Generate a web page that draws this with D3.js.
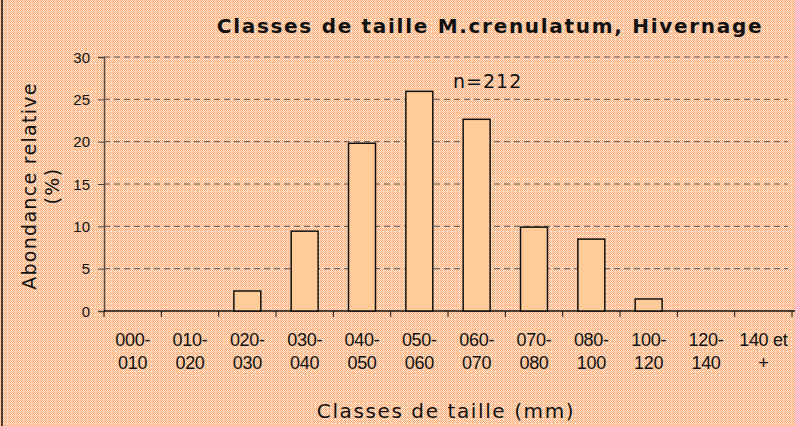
<!DOCTYPE html>
<html><head><meta charset="utf-8">
<script src="https://cdn.jsdelivr.net/npm/d3@7"></script>
<style>body{margin:0;padding:0;overflow:hidden;background:#fff}</style>
</head><body>
<svg id="c" width="795" height="426"></svg>
<script>
const categories = ["000-010","010-020","020-030","030-040","040-050","050-060","060-070","070-080","080-100","100-120","120-140","140 et +"];
const labelLine1 = ["000-","010-","020-","030-","040-","050-","060-","070-","080-","100-","120-","140 et"];
const labelLine2 = ["010","020","030","040","050","060","070","080","100","120","140","+"];
const values = [0, 0, 2.36, 9.43, 19.81, 25.94, 22.64, 9.91, 8.49, 1.42, 0, 0];
const yTicks = [0,5,10,15,20,25,30];

const svg = d3.select("#c");
const defs = svg.append("defs");
const pat = defs.append("pattern").attr("id","bg").attr("width",4).attr("height",4).attr("patternUnits","userSpaceOnUse");
pat.append("rect").attr("width",4).attr("height",4).attr("fill","#fde2cc");
[[0,0],[2,0],[1,1],[3,1],[0,2],[2,2],[1,3]].forEach(([x,y])=>pat.append("rect").attr("x",x).attr("y",y).attr("width",1).attr("height",1).attr("fill","#f7a873"));
svg.append("rect").attr("width",795).attr("height",426).attr("fill","url(#bg)");
svg.append("line").attr("x1",2).attr("x2",2).attr("y1",0).attr("y2",426).attr("stroke","#4a3a30").attr("stroke-width",2);

const L=104, R=792, T=57, B=311;
const x = d3.scaleBand().domain(categories).range([L,R]).paddingInner(0.53).paddingOuter(0.265);
const xo = d3.scaleBand().domain(categories).range([L,R]);
const y = d3.scaleLinear().domain([0,30]).range([B,T]);

// gridlines
svg.append("g").selectAll("line").data(yTicks.filter(d=>d>0)).join("line")
  .attr("x1",L).attr("x2",788).attr("y1",d=>y(d)).attr("y2",d=>y(d))
  .attr("stroke","#555").attr("stroke-width",1).attr("stroke-dasharray","6,4");

// y axis
const ya = svg.append("g").attr("transform",`translate(${L},0)`)
  .call(d3.axisLeft(y).tickValues(yTicks).tickSize(6).tickPadding(8));
ya.attr("font-size",null).attr("font-family",null);
ya.select(".domain").attr("stroke","#5a4a42").attr("stroke-width",1.5);
ya.selectAll(".tick line").attr("stroke","#444");
ya.selectAll("text").style("font-family","'Liberation Sans', Arial").style("font-size","15px").attr("fill","#111").attr("dy","0.35em");

// x axis
svg.append("line").attr("x1",L).attr("x2",R+3).attr("y1",B).attr("y2",B).attr("stroke","#111").attr("stroke-width",1.5);
svg.append("g").selectAll("line").data(categories).join("line")
  .attr("x1",d=>xo(d)).attr("x2",d=>xo(d)).attr("y1",B).attr("y2",B+6)
  .attr("stroke","#111").attr("stroke-width",1);
svg.append("line").attr("x1",R).attr("x2",R).attr("y1",B).attr("y2",B+6).attr("stroke","#111");

const lab = svg.append("g").style("font-family","'Liberation Sans', Arial").style("font-size","18px").attr("fill","#111").attr("text-anchor","middle");
categories.forEach((c,i)=>{
  const cx = xo(c)+xo.bandwidth()/2;
  lab.append("text").attr("x",cx).attr("y",346).attr("letter-spacing",-0.3).text(labelLine1[i]);
  lab.append("text").attr("x",cx).attr("y",369).attr("letter-spacing",-0.3).text(labelLine2[i]);
});

// bars
svg.append("g").selectAll("rect").data(values.map((v,i)=>({c:categories[i],v})).filter(d=>d.v>0)).join("rect")
  .attr("x",d=>x(d.c)).attr("width",x.bandwidth())
  .attr("y",d=>y(d.v)).attr("height",d=>B-y(d.v))
  .attr("fill","#ffcc99").attr("stroke","#111").attr("stroke-width",1.5);

// texts
svg.append("text").attr("x",490).attr("y",33).attr("text-anchor","middle")
  .style("font-family","'DejaVu Sans', Verdana").style("font-weight","bold").style("font-size","20px").attr("letter-spacing",1.7)
  .attr("fill","#111").text("Classes de taille M.crenulatum, Hivernage");
svg.append("text").attr("x",453).attr("y",88)
  .style("font-family","'DejaVu Sans', Verdana").style("font-size","19px").attr("letter-spacing",1)
  .attr("fill","#111").text("n=212");
svg.append("text").attr("x",446).attr("y",418).attr("text-anchor","middle")
  .style("font-family","'DejaVu Sans', Verdana").style("font-size","20px").attr("letter-spacing",1.6)
  .attr("fill","#111").text("Classes de taille (mm)");
const yt = svg.append("text").attr("transform","translate(0,186) rotate(-90)").attr("text-anchor","middle")
  .style("font-family","'DejaVu Sans', Verdana").style("font-size","19px").attr("letter-spacing",1.3).attr("fill","#111");
yt.append("tspan").attr("x",0).attr("y",36).text("Abondance relative");
yt.append("tspan").attr("x",0).attr("y",59).text("(%)");
</script>
</body></html>
